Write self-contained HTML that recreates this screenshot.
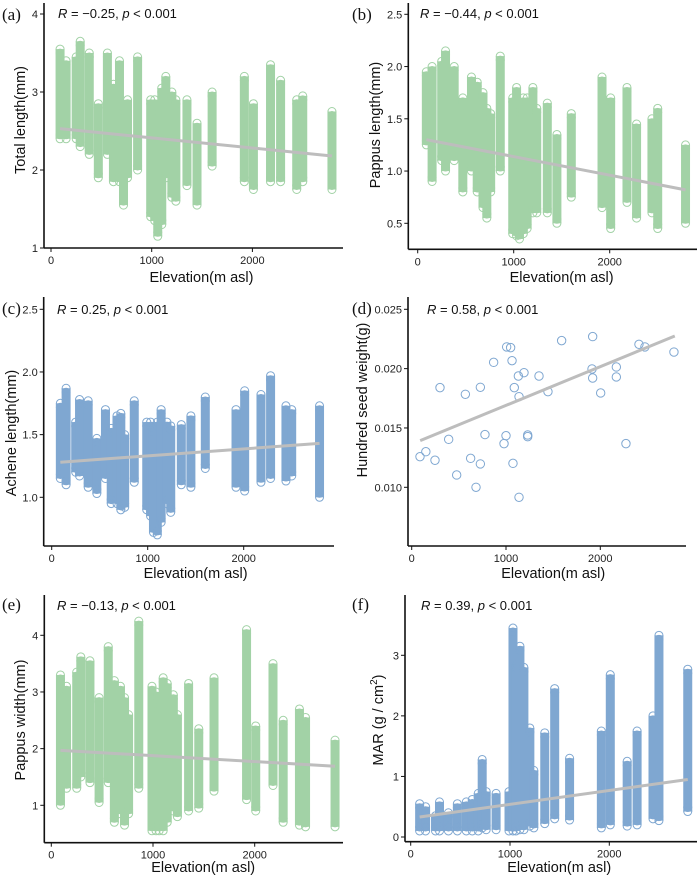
<!DOCTYPE html>
<html><head><meta charset="utf-8">
<style>
html,body{margin:0;padding:0;background:#fff;}
svg{display:block;font-family:"Liberation Sans",sans-serif;}
.tick{font-size:11px;fill:#222;}
.ttl{font-size:14.5px;fill:#111;}
.ann{font-size:13px;fill:#111;}
.lab{font-family:"Liberation Serif",serif;font-size:17px;fill:#111;}
</style></head>
<body>
<svg id="chart" width="700" height="878" viewBox="0 0 700 878" xmlns="http://www.w3.org/2000/svg"></svg>
<script>
const sites = [90,150,250,290,380,470,560,620,680,720,760,860,990,1030,1060,1100,1140,1200,1240,1350,1450,1600,1920,2010,2180,2280,2440,2500,2790];
const totalLo = [2.4,2.4,2.4,2.3,2.2,1.9,2.2,1.85,1.85,1.55,1.9,2.0,1.4,1.35,1.15,1.3,1.9,1.65,1.6,1.8,1.55,2.05,1.85,1.75,1.85,1.85,1.75,1.85,1.75];
const totalHi = [3.55,3.4,3.45,3.65,3.5,2.85,3.5,3.1,3.4,2.8,2.9,3.45,2.9,2.9,2.8,3.05,3.2,3.0,2.9,2.9,2.6,3.0,3.2,2.85,3.35,3.15,2.9,2.95,2.75];
const papLo = [1.25,0.9,1.1,1.0,1.1,0.8,1.0,0.8,0.65,0.55,0.8,1.0,0.4,0.38,0.35,0.4,0.45,0.6,0.6,0.6,0.5,0.75,0.65,0.45,0.7,0.55,0.6,0.45,0.5];
const papHi = [1.95,2.0,2.05,2.15,2.0,1.7,1.9,1.85,1.75,1.6,1.55,2.1,1.7,1.8,1.6,1.7,1.7,1.8,1.6,1.65,1.35,1.55,1.9,1.7,1.8,1.45,1.5,1.6,1.25];
const achLo = [1.15,1.1,1.2,1.17,1.08,1.03,1.15,0.95,0.95,0.9,0.92,1.12,0.9,0.85,0.72,0.7,0.8,0.95,0.88,1.1,1.08,1.23,1.08,1.05,1.12,1.15,1.13,1.17,1.0];
const achHi = [1.75,1.87,1.6,1.78,1.77,1.47,1.7,1.55,1.65,1.67,1.5,1.77,1.6,1.6,1.55,1.6,1.7,1.6,1.57,1.58,1.65,1.8,1.7,1.85,1.82,1.97,1.73,1.7,1.73];
const widLo = [1.0,1.3,1.3,1.5,1.4,1.05,1.4,0.7,0.85,0.65,0.85,1.3,0.55,0.55,0.55,0.55,0.7,0.9,0.8,0.9,0.95,1.25,1.1,0.9,1.35,0.7,0.65,0.62,0.62];
const widHi = [3.3,3.1,3.35,3.62,3.55,2.9,3.8,3.2,3.1,2.9,2.6,4.25,3.1,3.0,2.75,3.25,3.15,2.95,2.6,3.15,2.35,3.25,4.1,2.4,3.5,2.5,2.7,2.55,2.15];
const marLo = [0.1,0.1,0.1,0.1,0.1,0.1,0.1,0.1,0.1,0.15,0.12,0.12,0.1,0.1,0.1,0.12,0.12,0.18,0.15,0.22,0.3,0.28,0.15,0.2,0.18,0.2,0.3,0.27,0.42];
const marHi = [0.55,0.5,0.35,0.58,0.4,0.55,0.58,0.62,0.72,1.28,0.75,0.72,0.75,3.45,2.85,3.15,2.8,1.8,1.1,1.72,2.45,1.3,1.75,2.68,1.25,1.75,2.0,3.33,2.77];
const seedX = [88,150,247,300,392,477,569,625,682,728,728,777,869,979,1000,1007,1049,1064,1074,1088,1131,1138,1138,1191,1230,1230,1350,1445,1590,1919,1912,1919,2004,2170,2170,2272,2410,2473,2781];
const seedY = [0.01258,0.0130,0.01228,0.0184,0.01404,0.01104,0.01784,0.01244,0.0100,0.01197,0.01843,0.01444,0.02053,0.01368,0.01435,0.02183,0.02177,0.02067,0.01202,0.0184,0.01938,0.01764,0.00916,0.01966,0.01441,0.01427,0.01938,0.01806,0.02236,0.0227,0.01997,0.01921,0.01795,0.02014,0.0193,0.01368,0.02205,0.02183,0.0214];
const xTicks = [0,1000,2000];
const fitA=[2.53,2.18], fitB=[1.30,0.82], fitC=[1.28,1.43], fitD=[0.01393,0.02275], fitE=[1.97,1.69], fitF=[0.33,0.95];
const fitX=[90,2790];

const NS="http://www.w3.org/2000/svg";
const svg=document.getElementById('chart');
function mk(tag,attrs,parent){const e=document.createElementNS(NS,tag);for(const k in attrs)e.setAttribute(k,attrs[k]);(parent||svg).appendChild(e);return e;}
const GREEN="#a2d2a6", BLUE="#7fa7d1";

const panels=[
 {id:'a',yax:44,xax:248,top:3,right:343,x0:51,x1:151.7,v0:4,p0:14,v1:1,p1:248,ticks:[1,2,3,4],tl:['1','2','3','4'],title:'Total length(mm)',tx:25,ty:120,ann:'\u22120.25',ax:58,ay:18,lx:2,ly:20,col:GREEN,lo:totalLo,hi:totalHi,fit:fitA,xtb:282},
 {id:'b',yax:408.3,xax:249.3,top:3,right:697,x0:417.7,x1:513.7,v0:2.5,p0:14.3,v1:0.5,p1:223.3,ticks:[0.5,1,1.5,2,2.5],tl:['0.5','1.0','1.5','2.0','2.5'],title:'Pappus length(mm)',tx:380,ty:125,ann:'\u22120.44',ax:420,ay:18,lx:352,ly:20,col:GREEN,lo:papLo,hi:papHi,fit:fitB,xtb:282},
 {id:'c',yax:43.7,xax:546,top:297,right:334,x0:51.7,x1:147.7,v0:2.5,p0:309.3,v1:1.0,p1:497.3,ticks:[1,1.5,2,2.5],tl:['1.0','1.5','2.0','2.5'],title:'Achene length(mm)',tx:16,ty:433,ann:'0.25',ax:57,ay:314,lx:2,ly:314,col:BLUE,lo:achLo,hi:achHi,fit:fitC,xtb:578},
 {id:'d',yax:408,xax:546,top:297,right:686,x0:411.7,x1:506,v0:0.025,p0:309.3,v1:0.010,p1:487.3,ticks:[0.010,0.015,0.020,0.025],tl:['0.010','0.015','0.020','0.025'],title:'Hundred seed weight(g)',tx:367,ty:400,ann:'0.58',ax:427,ay:314,lx:352,ly:314,col:BLUE,pts:true,fit:fitD,xtb:578},
 {id:'e',yax:44.3,xax:842.7,top:595,right:343,x0:51.3,x1:153,v0:4,p0:635.3,v1:1,p1:805.3,ticks:[1,2,3,4],tl:['1','2','3','4'],title:'Pappus width(mm)',tx:25,ty:720,ann:'\u22120.13',ax:57,ay:610,lx:2,ly:610,col:GREEN,lo:widLo,hi:widHi,fit:fitE,xtb:872},
 {id:'f',yax:405,xax:841.7,top:595,right:697,x0:410.7,x1:510,v0:0,p0:837,v1:3,p1:655.3,ticks:[0,1,2,3],tl:['0','1','2','3'],title:'MAR',tx:383,ty:720,ann:'0.39',ax:421,ay:610,lx:352,ly:610,col:BLUE,lo:marLo,hi:marHi,fit:fitF,xtb:872}
];

panels.forEach(P=>{
  const g=mk('g',{});
  
  
  const X=v=>P.x0+(P.x1-P.x0)*v/1000;
  const Y=v=>P.p0+(P.p1-P.p0)*(v-P.v0)/(P.v1-P.v0);
  const pg=mk('g',{fill:'none',stroke:P.col,'stroke-width':1},g);
  
  
  if(P.pts){
    seedX.forEach((sx,i)=>{const c=mk('circle',{cx:X(sx),cy:Y(seedY[i]),r:4.2},pg);
      
      });
  } else {
    sites.forEach((s,i)=>{
      const yTop=Y(P.hi[i]), yBot=Y(P.lo[i]);
      const a=Math.min(yTop,yBot), b=Math.max(yTop,yBot);
      const col=mk('g',{},pg);
      
      
      mk('rect',{x:X(s)-4.5,y:a,width:9,height:b-a,fill:P.col,stroke:'none'},col);
      mk('circle',{cx:X(s),cy:a,r:4},col);
      mk('circle',{cx:X(s),cy:a+4,r:4},col);
      mk('circle',{cx:X(s),cy:b-4,r:4},col);
      mk('circle',{cx:X(s),cy:b,r:4},col);
    });
  }
  const fl=mk('line',{x1:X(fitX[0]),y1:Y(P.fit[0]),x2:X(fitX[1]),y2:Y(P.fit[1]),stroke:'#bdbdbd','stroke-width':3},g);
  
  
  const ya=mk('line',{x1:P.yax,y1:P.top,x2:P.yax,y2:P.xax,stroke:'#111','stroke-width':1.6},g);
  
  
  const xa=mk('line',{x1:P.yax,y1:P.xax,x2:P.right,y2:P.xax,stroke:'#111','stroke-width':1.6},g);
  
  
  P.ticks.forEach((t,i)=>{
    mk('line',{x1:P.yax-4,y1:Y(t),x2:P.yax,y2:Y(t),stroke:'#111','stroke-width':1},g);
    const tx=mk('text',{x:P.yax-6,y:Y(t)+4,'text-anchor':'end',class:'tick'},g);
    tx.textContent=P.tl[i];
    
    
  });
  xTicks.forEach(t=>{
    mk('line',{x1:X(t),y1:P.xax,x2:X(t),y2:P.xax+4,stroke:'#111','stroke-width':1},g);
    const tx=mk('text',{x:X(t),y:P.xax+16,'text-anchor':'middle',class:'tick'},g);
    tx.textContent=String(t);
    
    
  });
  const xt=mk('text',{x:(P.x0+X(2790))/2+10,y:P.xtb,'text-anchor':'middle',class:'ttl'},g);
  xt.textContent='Elevation(m asl)';
  
  
  const yt=mk('text',{x:0,y:0,'text-anchor':'middle',class:'ttl',transform:`translate(${P.tx},${P.ty}) rotate(-90)`},g);
  if(P.id==='f'){yt.innerHTML='MAR (g / cm<tspan dy="-6" font-size="10">2</tspan><tspan dy="6">)</tspan>';}
  else yt.textContent=P.title;
  
  
  const an=mk('text',{x:P.ax,y:P.ay,class:'ann'},g);
  an.innerHTML='<tspan font-style="italic">R</tspan> = '+P.ann+', <tspan font-style="italic">p</tspan> &lt; 0.001';
  
  
  const lb=mk('text',{x:P.lx,y:P.ly,class:'lab'},g);
  lb.textContent='('+P.id+')';
  
  
});
</script>
</body></html>
